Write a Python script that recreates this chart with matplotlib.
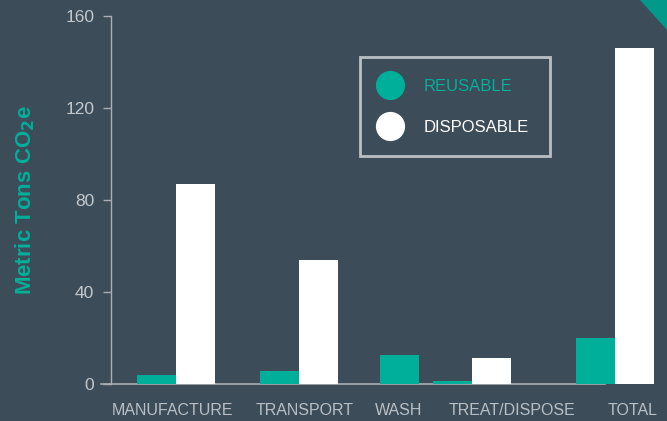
import numpy as np
import matplotlib.pyplot as plt
from matplotlib.patches import Polygon
from matplotlib.lines import Line2D

plt.rcParams['font.family'] = ['Liberation Sans', 'DejaVu Sans']

# values (metric tons CO2e)
categories = ['MANUFACTURE', 'TRANSPORT', 'WASH', 'TREAT/DISPOSE', 'TOTAL']
reusable = [3.7, 5.7, 12.6, 1.2, 20]
disposable = [87, 54, 0, 11.4, 146]

# layout (category centres are not evenly spaced in the original)
centres = np.array([0, 1, 1.82, 2.41, 3.57])
label_pos = [-0.03, 1.05, 1.81, 2.73, 3.71]
w = 0.317

bg = '#3c4d59'
teal = '#00af9a'
grey = '#c3c8cc'

fig = plt.figure(figsize=(6.67, 4.21), dpi=100, facecolor=bg)
ax = fig.add_axes([111/667, 37/421, (660-111)/667, (384-16)/421])
ax.set_facecolor(bg)

for i in range(len(categories)):
    if disposable[i] > 0:
        ax.bar(centres[i] - w/2, reusable[i], w, color=teal, zorder=3)
        ax.bar(centres[i] + w/2, disposable[i], w, color='white', zorder=3)
    else:
        ax.bar(centres[i], reusable[i], w, color=teal, zorder=3)

ax.set_xlim(-0.528, 3.935)
ax.set_ylim(0, 160)
ax.set_yticks([0, 40, 80, 120, 160])
ax.set_xticks(label_pos)
ax.set_xticklabels(categories)
ax.tick_params(axis='x', length=0, pad=14, labelsize=11.5, colors='#b9bfc4')
ax.tick_params(axis='y', length=6, width=1, color='#a9afb4', labelcolor=grey, labelsize=12.5, pad=6)

for s in ['top', 'right', 'bottom']:
    ax.spines[s].set_visible(False)
ax.spines['left'].set_color('#a9afb4')
ax.spines['left'].set_linewidth(1)

# baseline sticks out a bit left of the axis
ax.add_line(Line2D([-0.018, 0.9], [0, 0], transform=ax.transAxes, color='#a9afb4',
                   lw=1.2, clip_on=False, zorder=2))

ax.set_ylabel('Metric Tons CO$_\\mathbf{2}$e', color=teal, fontsize=16, fontweight='bold')
ax.yaxis.set_label_coords(-(111-37)/549, 0.5)

# legend
leg_h = [Line2D([], [], marker='o', ls='', markersize=20, color=teal),
         Line2D([], [], marker='o', ls='', markersize=20, color='white')]
leg = ax.legend(leg_h, ['REUSABLE', 'DISPOSABLE'], loc='upper left',
                bbox_to_anchor=((360-111)/549, (384-57)/368), frameon=True,
                fontsize=12, labelspacing=1.55, handlelength=1.0, handletextpad=1.5,
                borderpad=1.3, borderaxespad=0, fancybox=False)
leg.get_frame().set_facecolor(bg)
leg.get_frame().set_edgecolor('#d9dcdf')
leg.get_frame().set_linewidth(2)
leg.get_texts()[0].set_color(teal)
leg.get_texts()[1].set_color('white')

# corner decoration
fig.patches.append(Polygon([[640/667, 1], [1, 1], [1, 1 - 30/421]], closed=True,
                           transform=fig.transFigure, facecolor='#00998a', edgecolor='none'))

fig.savefig('out.png', dpi=100, facecolor=bg)
